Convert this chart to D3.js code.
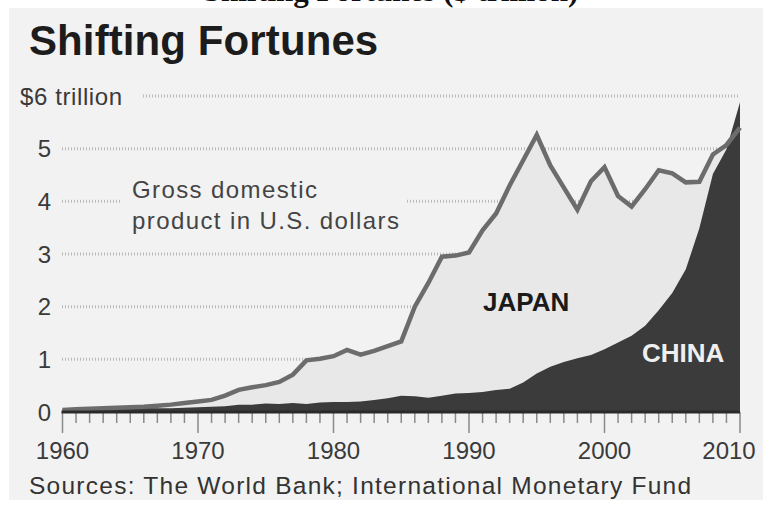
<!DOCTYPE html>
<html>
<head>
<meta charset="utf-8">
<script src="https://cdn.jsdelivr.net/npm/d3@7"></script>
<style>
  html, body { margin: 0; padding: 0; background: #ffffff; }
  svg { display: block; }
</style>
</head>
<body>
<svg id="chart" width="763" height="506"></svg>
<script>
// GDP in trillions of U.S. dollars, 1960-2010
const years = d3.range(1960, 2011);
const japanGDP = [
  0.04, 0.05, 0.06, 0.07, 0.08, 0.09, 0.10, 0.12, 0.14, 0.17,
  0.20, 0.23, 0.31, 0.42, 0.47, 0.51, 0.57, 0.71, 0.98, 1.01,
  1.06, 1.18, 1.09, 1.16, 1.25, 1.34, 2.00, 2.45, 2.95, 2.97,
  3.03, 3.45, 3.77, 4.30, 4.78, 5.26, 4.68, 4.26, 3.84, 4.38,
  4.65, 4.10, 3.90, 4.23, 4.59, 4.53, 4.36, 4.37, 4.89, 5.07,
  5.40
];
const chinaGDP = [
  0.06, 0.05, 0.047, 0.05, 0.06, 0.07, 0.076, 0.072, 0.07, 0.079,
  0.092, 0.10, 0.11, 0.14, 0.14, 0.16, 0.15, 0.17, 0.15, 0.18,
  0.19, 0.19, 0.20, 0.23, 0.26, 0.31, 0.30, 0.27, 0.31, 0.35,
  0.36, 0.38, 0.42, 0.44, 0.56, 0.73, 0.86, 0.95, 1.02, 1.08,
  1.19, 1.32, 1.45, 1.64, 1.93, 2.26, 2.71, 3.49, 4.52, 4.99,
  5.88
];
const yTicks = [0, 1, 2, 3, 4, 5, 6];
const yTickLabels = ["0", "1", "2", "3", "4", "5", "$6 trillion"];
const xTicks = [1960, 1970, 1980, 1990, 2000, 2010];

const svg = d3.select("#chart");
const font = "'Liberation Sans', Arial, Helvetica, sans-serif";

const x = d3.scaleLinear().domain([1960, 2010]).range([62.5, 740]);
const y = d3.scaleLinear().domain([0, 6]).range([412, 96]);

// page header above the graphic panel
svg.append("text")
  .attr("x", 391).attr("y", 1)
  .attr("text-anchor", "middle")
  .attr("font-family", "'Liberation Serif', 'DejaVu Serif', serif")
  .attr("font-weight", "bold")
  .attr("font-size", 31)
  .attr("fill", "#111")
  .text("Shifting Fortunes ($ trillion)");

// graphic panel
svg.append("rect")
  .attr("x", 9).attr("y", 8).attr("width", 754).attr("height", 492)
  .attr("fill", "#f2f2f2");

svg.append("text")
  .attr("x", 29).attr("y", 55)
  .attr("font-family", font).attr("font-weight", "bold")
  .attr("font-size", 42).attr("letter-spacing", 0.1)
  .attr("fill", "#1c1c1c")
  .text("Shifting Fortunes");

// dotted gridlines
const grid = svg.append("g");
yTicks.filter(d => d > 0).forEach(d => {
  grid.append("line")
    .attr("x1", d === 6 ? 143 : 62).attr("x2", 740)
    .attr("y1", y(d)).attr("y2", y(d))
    .attr("stroke", "#bababa").attr("stroke-width", 3)
    .attr("stroke-dasharray", "1 2");
});

// y labels
svg.append("g").selectAll("text")
  .data(yTicks)
  .join("text")
  .attr("x", (d, i) => d === 6 ? 20 : 51)
  .attr("y", d => y(d) + 8.5)
  .attr("text-anchor", d => d === 6 ? "start" : "end")
  .attr("font-family", font).attr("font-size", 24)
  .attr("letter-spacing", d => d === 6 ? 0.6 : 0)
  .attr("fill", "#3a3a3a")
  .text((d, i) => yTickLabels[i]);

// annotation with a panel-coloured backing that interrupts the gridline
svg.append("rect")
  .attr("x", 120).attr("y", 170).attr("width", 285).attr("height", 70)
  .attr("fill", "#f2f2f2");
const note = svg.append("text")
  .attr("font-family", font).attr("font-size", 24)
  .attr("letter-spacing", 1.4)
  .attr("fill", "#444");
note.append("tspan").attr("x", 132).attr("y", 198).text("Gross domestic");
note.append("tspan").attr("x", 132).attr("y", 229).text("product in U.S. dollars");

const japanData = years.map((yr, i) => ({ yr, v: japanGDP[i] }));
const chinaData = years.map((yr, i) => ({ yr, v: chinaGDP[i] }));

const area = d3.area()
  .x(d => x(d.yr))
  .y0(y(0))
  .y1(d => y(d.v));
const line = d3.line()
  .x(d => x(d.yr))
  .y(d => y(d.v));

svg.append("path").datum(japanData)
  .attr("d", area).attr("fill", "#e8e8e8");

svg.append("path").datum(chinaData)
  .attr("d", area).attr("fill", "#3b3b3b");

svg.append("path").datum(japanData)
  .attr("d", line)
  .attr("fill", "none")
  .attr("stroke", "#6c6c6c")
  .attr("stroke-width", 4.5)
  .attr("stroke-linejoin", "miter");

// series labels
svg.append("text")
  .attr("x", 483).attr("y", 311)
  .attr("font-family", font).attr("font-weight", "bold")
  .attr("font-size", 26).attr("fill", "#1a1a1a")
  .text("JAPAN");
svg.append("text")
  .attr("x", 642).attr("y", 362)
  .attr("font-family", font).attr("font-weight", "bold")
  .attr("font-size", 26).attr("fill", "#efefef")
  .text("CHINA");

// x axis: baseline, yearly ticks, decade ticks and labels
const axis = svg.append("g");
axis.selectAll("line.minor")
  .data(years)
  .join("line")
  .attr("class", "minor")
  .attr("x1", d => x(d)).attr("x2", d => x(d))
  .attr("y1", y(0)).attr("y2", d => d % 10 === 0 ? y(0) + 21 : y(0) + 11)
  .attr("stroke", "#8a8a8a").attr("stroke-width", 1.5);

axis.append("line")
  .attr("x1", x(1960) - 1).attr("x2", x(2010))
  .attr("y1", y(0)).attr("y2", y(0))
  .attr("stroke", "#2a2a2a").attr("stroke-width", 3);

// the last label is kept inside the panel's right edge
axis.selectAll("text")
  .data(xTicks)
  .join("text")
  .attr("x", d => Math.min(x(d), 729))
  .attr("y", 459)
  .attr("text-anchor", "middle")
  .attr("font-family", font).attr("font-size", 24)
  .attr("fill", "#3a3a3a")
  .text(d => d);

// source line
svg.append("text")
  .attr("x", 29).attr("y", 494)
  .attr("font-family", font).attr("font-size", 24.5)
  .attr("letter-spacing", 1.25)
  .attr("fill", "#333")
  .text("Sources: The World Bank; International Monetary Fund");
</script>
</body>
</html>
